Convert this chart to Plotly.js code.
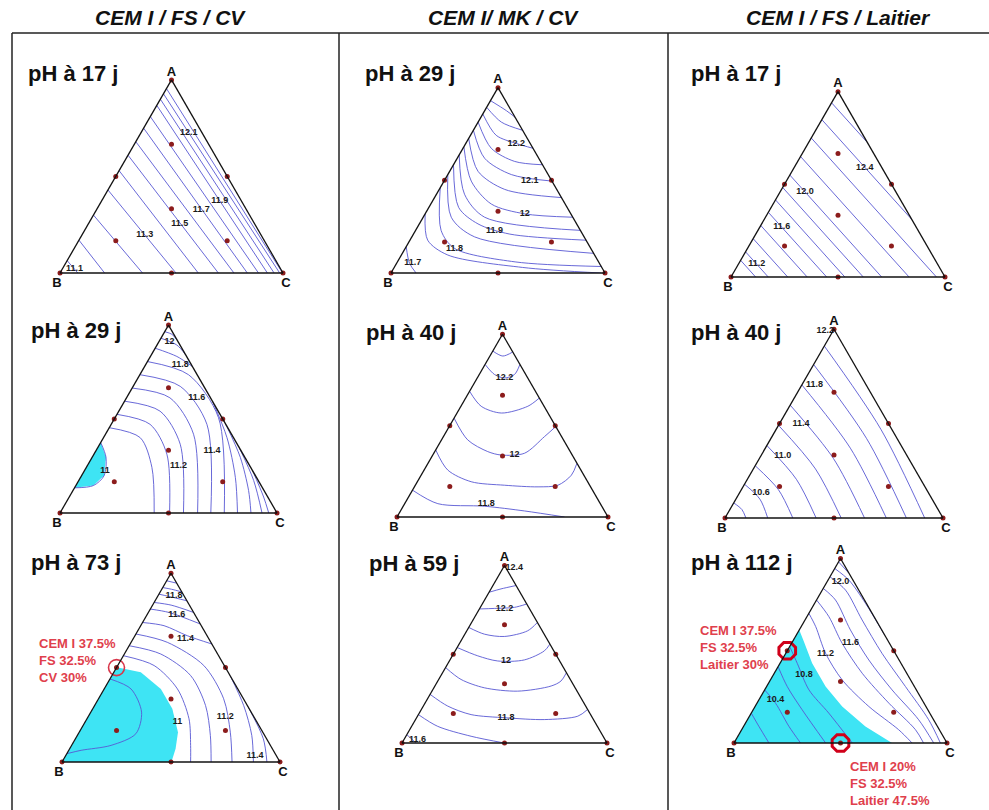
<!DOCTYPE html>
<html>
<head>
<meta charset="utf-8">
<script src="https://cdn.plot.ly/plotly-3.0.1.min.js"></script>
<style>
  html, body { margin: 0; padding: 0; background: #fff; }
  #chart { width: 989px; height: 810px; }
</style>
</head>
<body>
<div id="chart"></div>
<script>
// titles
const columnTitles = ['CEM I / FS / CV', 'CEM I/ MK / CV', 'CEM I / FS / Laitier'];
const panelTitles = ['pH à 17 j', 'pH à 29 j', 'pH à 17 j',
                     'pH à 29 j', 'pH à 40 j', 'pH à 40 j',
                     'pH à 73 j', 'pH à 59 j', 'pH à 112 j'];

// mixture design points (fractions of A, B, C)
const designA = [1, 0, 0, 0.5, 0.5, 0, 0.667, 0.167, 0.167, 0.333];
const designB = [0, 1, 0, 0.5, 0, 0.5, 0.167, 0.667, 0.167, 0.333];
const designC = [0, 0, 1, 0, 0.5, 0.5, 0.167, 0.167, 0.667, 0.333];

// iso-pH lines, each point is [A, C] (B = 1 - A - C)
const p1Lines = [
  [[.064,0],[0,.08]], [[.17,0],[0,.20]], [[.30,0],[0,.37]], [[.43,0],[0,.52]],
  [[.53,0],[0,.62]], [[.61,0],[0,.71]], [[.68,0],[0,.78]], [[.75,0],[0,.84]],
  [[.81,0],[0,.89]], [[.868,0],[0,.93]], [[.90,0],[0,.96]], [[.928,0],[0,.985]],
  [[.955,0],[0,.998]]
];
const p1Labels = ['11.1', '11.3', '11.5', '11.7', '11.9', '12.1'];
const p1LabelPos = [[.02,.055],[.20,.28],[.255,.41],[.326,.47],[.373,.53],[.725,.215]];

const p2Lines = [
  [[.93,0],[.876,.101],[.84,.16]],
  [[.894,0],[.814,.109],[.77,.23]],
  [[.858,0],[.743,.12],[.699,.236],[.673,.327]],
  [[.814,0],[.673,.132],[.602,.277],[.584,.416]],
  [[.77,0],[.619,.128],[.531,.297],[.496,.504]],
  [[.726,0],[.549,.132],[.451,.306],[.407,.593]],
  [[.681,0],[.496,.127],[.372,.283],[.319,.466],[.301,.699]],
  [[.637,0],[.425,.131],[.301,.287],[.23,.77]],
  [[.584,0],[.354,.139],[.265,.274],[.21,.45],[.177,.823]],
  [[.531,0],[.301,.131],[.195,.293],[.106,.894]],
  [[.46,0],[.23,.119],[.133,.23],[.06,.55],[.035,.965]],
  [[.319,0],[.177,.083],[.097,.217],[.03,.6],[0,.98]],
  [[.142,0],[.053,.06],[0,.117]]
];
const p2Labels = ['12.2', '12.1', '12', '11.9', '11.8', '11.7'];
const p2LabelPos = [[.699,.236],[.496,.40],[.319,.466],[.23,.369],[.133,.23],[.053,.075]];

const p3Lines = [
  [[.09,0],[0,.115]], [[.136,0],[0,.174]], [[.207,0],[0,.265]], [[.278,0],[0,.356]],
  [[.349,0],[0,.447]], [[.416,0],[0,.532]], [[.483,0],[0,.618]], [[.55,0],[0,.704]],
  [[.65,0],[0,.832]], [[.75,0],[0,.96]], [[.849,0],[.31,.69]], [[.94,0],[.726,.274]]
];
const p3Labels = ['11.2', '11.6', '12.0', '12.4'];
const p3LabelPos = [[.07,.085],[.27,.102],[.461,.115],[.591,.33]];

const p4Lines = [
  [[.375,0],[.296,.064],[.199,.104],[.146,.081],[.134,0]],
  [[.454,0],[.401,.169],[.243,.302],[0,.434]],
  [[.525,0],[.472,.179],[.313,.336],[0,.505]],
  [[.595,0],[.542,.19],[.366,.371],[0,.569]],
  [[.665,0],[.613,.2],[.419,.406],[0,.634]],
  [[.736,0],[.674,.217],[.472,.441],[0,.695]],
  [[.806,0],[.736,.224],[.507,.477],[0,.757]],
  [[.877,0],[.833,.122],[.78,.22]],
  [[.595,.405],[.401,.569],[.19,.713],[0,.818]],
  [[.93,0],[.894,.091],[.842,.158]],
  [[.472,.528],[.296,.683],[.12,.809],[0,.88]],
  [[.965,0],[.951,.04],[.92,.08]],
  [[.349,.651],[.173,.806],[0,.931]],
  [[.225,.775],[.085,.896],[0,.962]]
];
const p4Labels = ['12', '11.8', '11.6', '11.4', '11.2', '11'];
const p4LabelPos = [[.912,.049],[.789,.16],[.613,.324],[.331,.535],[.252,.42],[.225,.095]];
const p4Fill = [[.375,0],[.296,.064],[.199,.104],[.146,.081],[.134,0]];

const p5Lines = [
  [[.908,0],[.881,.061],[.903,.097]],
  [[.835,0],[.78,.072],[.761,.129],[.78,.167],[.835,.165]],
  [[.688,0],[.606,.096],[.569,.21],[.606,.317],[.651,.349]],
  [[.541,0],[.422,.124],[.358,.251],[.339,.325],[.349,.43],[.44,.479],[.495,.505]],
  [[.367,0],[.257,.112],[.193,.255],[.174,.422],[.165,.586],[.174,.676],[.229,.712],[.294,.706]],
  [[.147,0],[.073,.157],[.059,.385],[.033,.588],[0,.794]]
];
const p5Labels = ['12.2', '12', '11.8'];
const p5LabelPos = [[.761,.129],[.339,.387],[.073,.386]];

const p6Lines = [
  [[.08,0],[.045,.055],[0,.096]],
  [[.179,0],[.10,.11],[0,.196]],
  [[.277,0],[.15,.17],[0,.311]],
  [[.384,0],[.205,.225],[0,.418]],
  [[.491,0],[.26,.285],[0,.533]],
  [[.598,0],[.315,.34],[0,.64]],
  [[.705,0],[.37,.39],[0,.74]],
  [[.813,0],[.42,.44],[0,.832]],
  [[.911,0],[.47,.48],[0,.916]]
];
const p6Labels = ['12.2', '11.8', '11.4', '11.0', '10.6'];
const p6LabelPos = [[.99,.005],[.705,.058],[.5,.099],[.33,.10],[.134,.098]];

const p7Lines = [
  [[.44,0],[.387,.123],[.264,.233],[.15,.264],[.088,.181],[.062,.057],[.044,0]],
  [[.563,0],[.511,.167],[.387,.336],[.229,.468],[.088,.546],[0,.59]],
  [[.616,0],[.572,.167],[.458,.361],[.299,.509],[.141,.61],[0,.684]],
  [[.678,0],[.634,.166],[.511,.395],[.335,.574],[.158,.693],[0,.78]],
  [[.739,0],[.722,.107],[.669,.24],[.625,.375]],
  [[.458,.542],[.299,.684],[.141,.80],[0,.878]],
  [[.81,0],[.792,.095],[.731,.269]],
  [[.299,.701],[.123,.862],[0,.94]],
  [[.845,0],[.831,.085],[.792,.208]],
  [[.889,0],[.877,.052],[.854,.146]],
  [[.924,0],[.915,.045],[.901,.099]],
  [[.96,0],[.947,.053]]
];
const p7Labels = ['11.8', '11.6', '11.4', '11', '11.2', '11.4'];
const p7LabelPos = [[.88,.074],[.778,.137],[.651,.241],[.211,.424],[.238,.63],[.035,.868]];
const p7Fill = [[.502,0],[.475,.124],[.387,.26],[.282,.365],[.158,.453],[.07,.486],[0,.502],[0,0]];
const p7Circles = [[.5,0]];

const p8Lines = [
  [[.849,0],[.868,.049],[.887,.113]],
  [[.755,0],[.758,.071],[.764,.166],[.783,.217]],
  [[.651,0],[.613,.096],[.60,.199],[.632,.297],[.679,.321]],
  [[.538,0],[.491,.124],[.462,.236],[.468,.363],[.519,.435],[.557,.443]],
  [[.425,0],[.358,.109],[.311,.246],[.292,.418],[.321,.567],[.349,.601],[.396,.604]],
  [[.274,0],[.208,.119],[.16,.257],[.142,.436],[.132,.628],[.151,.782],[.189,.811]],
  [[.16,0],[.094,.127],[.038,.318],[0,.499]],
  [[.047,0],[0,.068]]
];
const p8Labels = ['12.4', '12.2', '12', '11.8', '11.6'];
const p8LabelPos = [[.985,.012],[.755,.122],[.462,.276],[.142,.436],[.019,.066]];

const p9Lines = [
  [[.162,0],[.09,.072],[0,.164]],
  [[.288,0],[.216,.087],[.09,.213],[0,.3125]],
  [[.414,0],[.306,.097],[.18,.23],[0,.43]],
  [[.523,0],[.432,.081],[.288,.208],[.162,.364],[0,.555]],
  [[.703,0],[.631,.068],[.486,.187],[.342,.337],[.198,.534],[.072,.737],[0,.836]],
  [[.775,0],[.685,.103],[.541,.237],[.378,.413],[.216,.619],[.072,.816],[0,.89]],
  [[.838,0],[.775,.089],[.613,.24],[.45,.408],[.288,.598],[.126,.804],[0,.9375]],
  [[.901,0],[.829,.109],[.667,.268],[.486,.452],[.306,.652],[.126,.851],[0,.969]],
  [[.946,0],[.883,.098],[.757,.239],[.586,.414]],
  [[.982,0],[.919,.081]]
];
const p9Labels = ['12.0', '11.6', '11.2', '10.8', '10.4'];
const p9LabelPos = [[.874,.063],[.541,.276],[.486,.187],[.369,.144],[.234,.078]];
const p9Fill = [[.613,0],[.55,.053],[.432,.151],[.306,.277],[.198,.409],[.09,.572],[0,.742],[0,0]];
const p9Circles = [[.5,0],[0,.5]];

// red notes
const p7Note = ['CEM I 37.5%', 'FS 32.5%', 'CV 30%'];
const p9NoteTop = ['CEM I 37.5%', 'FS 32.5%', 'Laitier 30%'];
const p9NoteBottom = ['CEM I 20%', 'FS 32.5%', 'Laitier 47.5%'];

const W = 989, H = 810;
const FONT = 'Liberation Sans, Arial, sans-serif';
const LINE_COLOR = '#5858d4';
const CYAN = '#3ee4f4';

const panels = [
  { lines: p1Lines, labels: p1Labels, pos: p1LabelPos },
  { lines: p2Lines, labels: p2Labels, pos: p2LabelPos },
  { lines: p3Lines, labels: p3Labels, pos: p3LabelPos },
  { lines: p4Lines, labels: p4Labels, pos: p4LabelPos, fill: p4Fill },
  { lines: p5Lines, labels: p5Labels, pos: p5LabelPos },
  { lines: p6Lines, labels: p6Labels, pos: p6LabelPos, edge: { 0: 'middle left' } },
  { lines: p7Lines, labels: p7Labels, pos: p7LabelPos, fill: p7Fill, circles: p7Circles },
  { lines: p8Lines, labels: p8Labels, pos: p8LabelPos, edge: { 0: 'middle right' } },
  { lines: p9Lines, labels: p9Labels, pos: p9LabelPos, fill: p9Fill, circles: p9Circles, bold: true }
];

// triangle placement in pixels: B corner x, base y, side length
const panelBoxes = [
  [60, 273, 223], [391, 273, 214], [731, 277, 214],
  [60, 513, 217], [397, 517, 211], [725, 518, 218],
  [62, 762, 218], [402, 743, 205], [734, 743, 213]
];
const panelTitleXY = [
  [26, 73], [363, 73], [689, 73],
  [29, 330], [364, 332], [689, 332],
  [29, 562], [367, 563], [689, 562]
];
const columnTitleX = [170, 503, 838];

const aOf = pts => pts.map(p => p[0]);
const cOf = pts => pts.map(p => p[1]);
const bOf = pts => pts.map(p => Math.max(0, 1 - p[0] - p[1]));

const data = [];
const layout = {
  width: W, height: H,
  margin: { l: 0, r: 0, t: 0, b: 0 },
  paper_bgcolor: '#fff',
  showlegend: false,
  hovermode: false,
  font: { family: FONT, color: '#111' },
  annotations: [],
  shapes: []
};

function axis(name) {
  return {
    title: { text: '<b>' + name + '</b>', font: { size: 13, color: '#111', family: FONT } },
    showline: true, linecolor: '#111', linewidth: 1.3,
    showgrid: false, ticks: '', showticklabels: false
  };
}

panels.forEach((p, i) => {
  const id = i === 0 ? 'ternary' : 'ternary' + (i + 1);
  const [xb, yb, s] = panelBoxes[i];
  const h = s * Math.sqrt(3) / 2;
  layout[id] = {
    domain: { x: [xb / W, (xb + s) / W], y: [(H - yb) / H, (H - yb + h) / H] },
    bgcolor: 'rgba(0,0,0,0)',
    sum: 1,
    aaxis: axis('A'), baxis: axis('B'), caxis: axis('C')
  };

  if (p.fill) {
    data.push({
      type: 'scatterternary', subplot: id, mode: 'lines',
      a: aOf(p.fill), b: bOf(p.fill), c: cOf(p.fill),
      fill: 'toself', fillcolor: CYAN, line: { width: 0, color: CYAN },
      hoverinfo: 'skip'
    });
  }

  p.lines.forEach(pts => {
    data.push({
      type: 'scatterternary', subplot: id, mode: 'lines',
      a: aOf(pts), b: bOf(pts), c: cOf(pts),
      line: { color: LINE_COLOR, width: 0.9, shape: pts.length > 2 ? 'spline' : 'linear', smoothing: 0.85 },
      hoverinfo: 'skip'
    });
  });

  data.push({
    type: 'scatterternary', subplot: id, mode: 'markers',
    a: designA, b: designB, c: designC,
    marker: { color: '#8c1c1c', size: 5 },
    cliponaxis: false, hoverinfo: 'skip'
  });

  data.push({
    type: 'scatterternary', subplot: id, mode: 'text',
    a: aOf(p.pos), b: bOf(p.pos), c: cOf(p.pos),
    text: p.labels.map(t => '<b>' + t + '</b>'),
    textposition: p.labels.map((_, k) => (p.edge && p.edge[k]) || 'middle center'),
    textfont: { family: FONT, size: 9, color: '#1a1a1a' },
    cliponaxis: false, hoverinfo: 'skip'
  });

  if (p.circles) {
    data.push({
      type: 'scatterternary', subplot: id, mode: 'markers',
      a: aOf(p.circles), b: bOf(p.circles), c: cOf(p.circles),
      marker: p.bold
        ? { symbol: 'octagon-open', size: 18, color: '#d0001a', line: { width: 3 } }
        : { symbol: 'circle-open', size: 16, color: '#d8364a', line: { width: 1.6 } },
      cliponaxis: false, hoverinfo: 'skip'
    });
  }

  layout.annotations.push({
    xref: 'paper', yref: 'paper',
    x: panelTitleXY[i][0] / W, y: 1 - panelTitleXY[i][1] / H,
    xanchor: 'left', yanchor: 'middle', showarrow: false,
    text: '<b>' + panelTitles[i] + '</b>',
    font: { family: FONT, size: 22, color: '#111' }
  });
});

columnTitles.forEach((t, i) => {
  layout.annotations.push({
    xref: 'paper', yref: 'paper',
    x: columnTitleX[i] / W, y: 1 - 17 / H,
    xanchor: 'center', yanchor: 'middle', showarrow: false,
    text: '<b><i>' + t + '</i></b>',
    font: { family: FONT, size: 21, color: '#111' }
  });
});

function note(lines, x, y, color) {
  layout.annotations.push({
    xref: 'paper', yref: 'paper', x: x / W, y: 1 - y / H,
    xanchor: 'left', yanchor: 'middle', align: 'left', showarrow: false,
    text: lines.map(l => '<b>' + l + '</b>').join('<br>'),
    font: { family: FONT, size: 13, color: color }
  });
}
note(p7Note, 37, 660, '#e0404c');
note(p9NoteTop, 698, 647, '#e0404c');
note(p9NoteBottom, 848, 783, '#e0404c');

// frame
const frame = [
  [12, 33, 989, 33], [12, 33, 12, 810], [339, 33, 339, 810], [668, 33, 668, 810]
];
frame.forEach(([x0, y0, x1, y1]) => {
  layout.shapes.push({
    type: 'line', xref: 'paper', yref: 'paper',
    x0: x0 / W, y0: 1 - y0 / H, x1: x1 / W, y1: 1 - y1 / H,
    line: { color: '#222', width: 1.5 }
  });
});

Plotly.newPlot('chart', data, layout, { displayModeBar: false, staticPlot: true });
</script>
</body>
</html>
